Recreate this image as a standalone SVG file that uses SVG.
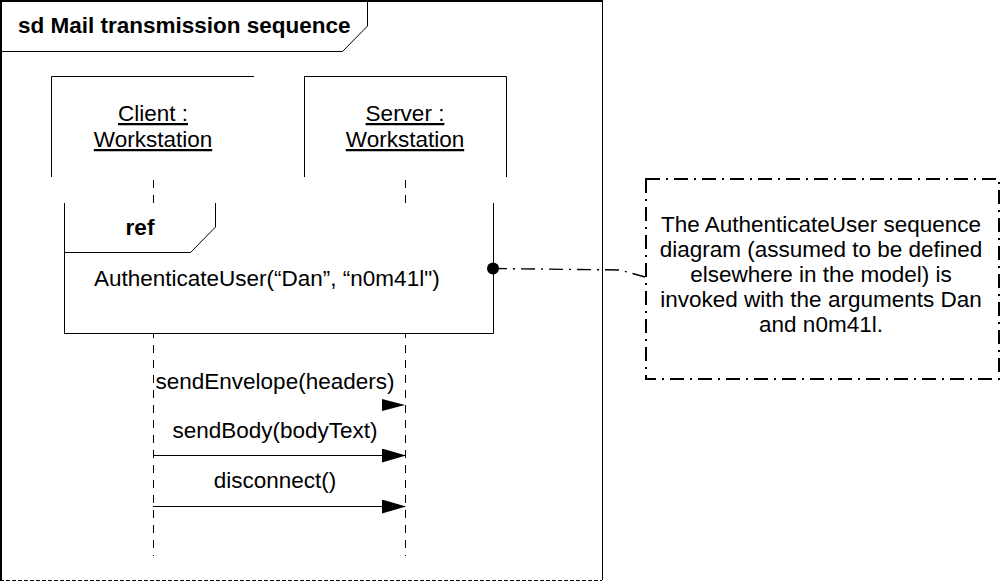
<svg xmlns="http://www.w3.org/2000/svg" width="1000" height="582" viewBox="0 0 1000 582">
<style>
text{font-family:"Liberation Sans",Arial,sans-serif;font-size:22.5px;fill:#000}
.b{font-weight:bold}
.u{text-decoration:underline}
.ln{stroke:#000;stroke-width:1;fill:none}
.life{stroke:#000;stroke-width:1;stroke-dasharray:8 7;fill:none}
.note{stroke:#000;stroke-width:2;stroke-dasharray:14 6 2 6;fill:#fff}
.dd{stroke:#000;stroke-width:1.4;stroke-dasharray:14 6 2 6;fill:none}
</style>
<defs>
<marker id="ah" markerWidth="24" markerHeight="14" refX="23" refY="7" orient="auto" markerUnits="userSpaceOnUse">
<path d="M0,0 L24,7 L0,14 Z" fill="#000"/>
</marker>
</defs>
<rect width="1000" height="582" fill="#fff"/>
<g id="frame">
<line class="ln" x1="0" y1="1" x2="602" y2="1" style="stroke-width:2"/>
<line class="ln" x1="1" y1="0" x2="1" y2="580" style="stroke-width:2"/>
<line class="ln" x1="602.5" y1="0" x2="602.5" y2="580"/>
<line class="ln" x1="0" y1="580.5" x2="602" y2="580.5" style="stroke-dasharray:4 2"/>
<path class="ln" d="M0,51.5 H342.5 L367.5,26 V0"/>
<text class="b" x="18" y="33">sd Mail transmission sequence</text>
</g>
<g id="client">
<path class="ln" d="M51.5,177 V76.5 H254"/>
<text class="u" x="153" y="121" text-anchor="middle">Client :</text>
<text class="u" x="153" y="147" text-anchor="middle">Workstation</text>
<line class="life" x1="153.5" y1="180" x2="153.5" y2="556"/>
</g>
<g id="server">
<path class="ln" d="M304.5,177 V76.5 H506.5 V177"/>
<text class="u" x="405" y="121" text-anchor="middle">Server :</text>
<text class="u" x="405" y="147" text-anchor="middle">Workstation</text>
<line class="life" x1="405.5" y1="180" x2="405.5" y2="556"/>
</g>
<g id="ref">
<rect x="64.5" y="203.5" width="429" height="130" fill="#fff" stroke="none"/>
<path class="ln" d="M64.5,203 V333.5 H493.5 V203"/>
<path class="ln" d="M64.5,252.5 H190.5 L215.5,227 V203"/>
<text class="b" x="140" y="235" text-anchor="middle">ref</text>
<text x="94" y="286">AuthenticateUser(“Dan”, “n0m41l")</text>
</g>
<g id="note">
<rect class="note" x="646" y="179" width="353" height="200"/>
<text x="821" y="232" text-anchor="middle">The AuthenticateUser sequence</text>
<text x="821" y="257" text-anchor="middle">diagram (assumed to be defined</text>
<text x="821" y="282" text-anchor="middle">elsewhere in the model) is</text>
<text x="821" y="307" text-anchor="middle">invoked with the arguments Dan</text>
<text x="821" y="332" text-anchor="middle">and n0m41l.</text>
</g>
<g id="connectors">
<polyline class="dd" points="493,268.5 620,270 645,277"/>
<circle cx="493" cy="268.5" r="6" fill="#000"/>
<path d="M382,399 L405,405 L382,411 Z" fill="#000"/>
<text x="275" y="389" text-anchor="middle">sendEnvelope(headers)</text>
<line class="ln" x1="153" y1="455.5" x2="405" y2="455.5" marker-end="url(#ah)"/>
<text x="275" y="438" text-anchor="middle">sendBody(bodyText)</text>
<line class="ln" x1="153" y1="506.5" x2="405" y2="506.5" marker-end="url(#ah)"/>
<text x="275" y="488" text-anchor="middle">disconnect()</text>
</g>
</svg>
